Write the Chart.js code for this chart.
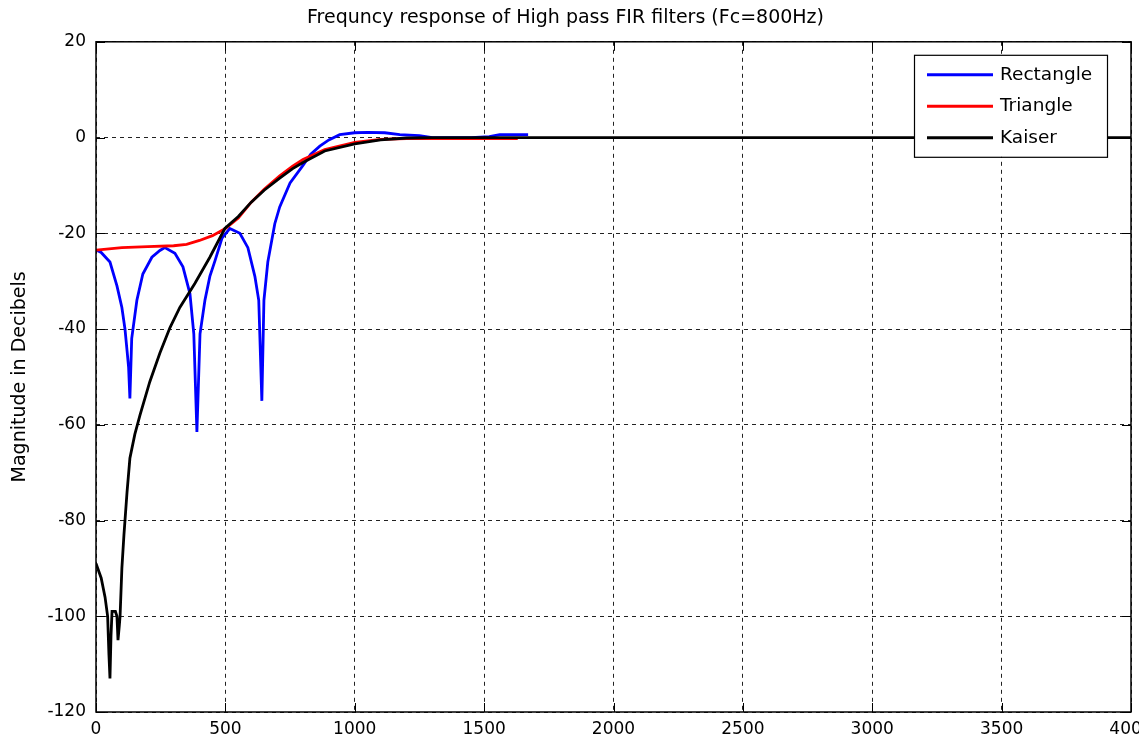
<!DOCTYPE html>
<html>
<head>
<meta charset="utf-8">
<script src="https://cdn.jsdelivr.net/npm/chart.js@4.4.1/dist/chart.umd.min.js"></script>
<style>
  body { margin: 0; background: #fff; }
</style>
</head>
<body>
<canvas id="myChart" width="1139" height="744"></canvas>
<script>
// values (Hz, dB)
var rectFreq = [0, 20, 54, 81, 100, 112, 120, 126, 131, 138, 158, 181, 216, 247, 266, 305, 336, 363, 378, 390, 402, 421, 440, 460, 487, 517, 556, 587, 614, 629, 641, 649, 664, 691, 710, 750, 800, 830, 865, 900, 942, 1000, 1050, 1116, 1174, 1250, 1300, 1450, 1520, 1560, 1670];
var rectDb   = [-23.5, -24, -26, -31, -35.5, -40, -44.5, -48, -54.5, -42, -34, -28.5, -25, -23.6, -23, -24.2, -27, -32.6, -41, -61.5, -41, -34, -29, -25.7, -21, -19, -20, -23, -29, -34, -55, -34, -26, -18, -14.5, -9.5, -5.8, -3.5, -1.8, -0.5, 0.6, 1, 1.1, 1, 0.6, 0.4, 0, 0, 0.2, 0.6, 0.6];

var triFreq = [0, 100, 200, 300, 350, 400, 450, 500, 550, 600, 650, 710, 760, 800, 884, 1000, 1100, 1200, 1630];
var triDb   = [-23.5, -23, -22.8, -22.6, -22.3, -21.5, -20.5, -19, -16.8, -13.5, -10.8, -8, -6, -4.6, -2.5, -1, -0.4, -0.2, -0.2];

var kaiFreq = [0, 20, 35, 45, 50, 54, 58, 62, 75, 81, 85, 90, 93, 100, 108, 120, 131, 150, 170, 208, 247, 286, 324, 382, 440, 498, 550, 600, 650, 710, 760, 800, 884, 1000, 1100, 1200, 1300, 4000];
var kaiDb   = [-89, -92, -96, -100, -108, -113, -104, -99, -99, -100, -105, -102, -100, -90, -83, -74, -67, -62, -58, -51, -45, -39.7, -35.5, -30.5, -25, -19, -16.5, -13.5, -11, -8.5, -6.5, -5.2, -2.8, -1.3, -0.5, -0.1, 0, 0];

var seriesNames = ["Rectangle", "Triangle", "Kaiser"];
var seriesColors = ["#0000ff", "#ff0000", "#000000"];

var xTicksStep = 500;
var yTicksStep = 20;

function pairs(xs, ys) {
    return xs.map(function (x, i) { return { x: x, y: ys[i] }; });
}

var FONT = "'DejaVu Sans', Arial, sans-serif";

// box, inward ticks and legend like the matlab figure
var matlabBox = {
    id: "matlabBox",
    afterDraw: function (chart) {
        var ctx = chart.ctx;
        var a = chart.chartArea;
        var xs = chart.scales.x, ys = chart.scales.y;
        ctx.save();
        ctx.strokeStyle = "#000";
        ctx.lineWidth = 1;
        ctx.beginPath();
        xs.ticks.forEach(function (t) {
            var px = Math.round(xs.getPixelForValue(t.value)) + 0.5;
            ctx.moveTo(px, a.top); ctx.lineTo(px, a.top + 9);
            ctx.moveTo(px, a.bottom); ctx.lineTo(px, a.bottom - 9);
        });
        ys.ticks.forEach(function (t) {
            var py = Math.round(ys.getPixelForValue(t.value)) + 0.5;
            ctx.moveTo(a.left, py); ctx.lineTo(a.left + 9, py);
            ctx.moveTo(a.right, py); ctx.lineTo(a.right - 9, py);
        });
        ctx.stroke();
        ctx.lineWidth = 1.5;
        ctx.strokeRect(a.left, a.top, a.right - a.left, a.bottom - a.top);

        // legend
        var w = 193, h = 102;
        var lx = a.right - 24 - w, ly = a.top + 13;
        ctx.fillStyle = "#fff";
        ctx.fillRect(lx, ly, w, h);
        ctx.lineWidth = 1.2;
        ctx.strokeRect(lx + 0.5, ly + 0.5, w, h);
        ctx.font = "18.5px " + FONT;
        ctx.textBaseline = "middle";
        chart.data.datasets.forEach(function (ds, i) {
            var yy = ly + 20 + i * 31.5;
            ctx.strokeStyle = ds.borderColor;
            ctx.lineWidth = 3;
            ctx.beginPath();
            ctx.moveTo(lx + 13, yy); ctx.lineTo(lx + 79, yy);
            ctx.stroke();
            ctx.fillStyle = "#000";
            ctx.fillText(ds.label, lx + 86, yy);
        });
        ctx.restore();
    }
};

new Chart("myChart", {
    type: "line",
    data: {
        datasets: [
            { label: seriesNames[0], data: pairs(rectFreq, rectDb), borderColor: seriesColors[0], borderWidth: 2.8, order: 3 },
            { label: seriesNames[1], data: pairs(triFreq, triDb), borderColor: seriesColors[1], borderWidth: 2.8, order: 2 },
            { label: seriesNames[2], data: pairs(kaiFreq, kaiDb), borderColor: seriesColors[2], borderWidth: 2.8, order: 1 }
        ]
    },
    options: {
        responsive: false,
        animation: false,
        events: [],
        elements: { point: { radius: 0 }, line: { tension: 0 } },
        layout: { padding: { right: 8, left: 0, top: 0, bottom: 0 } },
        plugins: {
            legend: { display: false },
            tooltip: { enabled: false },
            title: {
                display: true,
                text: "Frequncy response of High pass FIR filters (Fc=800Hz)",
                color: "#000",
                font: { family: FONT, size: 19, weight: "normal" },
                padding: { top: 7, bottom: 12 }
            }
        },
        scales: {
            x: {
                type: "linear",
                min: 0,
                max: 4000,
                ticks: {
                    stepSize: xTicksStep,
                    color: "#000",
                    padding: 7,
                    maxRotation: 0,
                    font: { family: FONT, size: 17 },
                    callback: function (v) { return String(v); }
                },
                grid: { color: "#222", lineWidth: 1, drawTicks: false },
                border: { display: false, dash: [4, 4] },
                afterFit: function (scale) { scale.height = 32; scale.paddingRight = 0; scale.paddingLeft = 0; }
            },
            y: {
                min: -120,
                max: 20,
                ticks: {
                    stepSize: yTicksStep,
                    color: "#000",
                    padding: 10,
                    font: { family: FONT, size: 17 },
                    callback: function (v) { return String(v); }
                },
                grid: { color: "#222", lineWidth: 1, drawTicks: false },
                border: { display: false, dash: [4, 4] },
                title: {
                    display: true,
                    text: "Magnitude in Decibels",
                    color: "#000",
                    font: { family: FONT, size: 19 },
                    padding: { top: 9, bottom: 0 }
                },
                afterFit: function (scale) { scale.width = 96; }
            }
        }
    },
    plugins: [matlabBox]
});
</script>
</body>
</html>
